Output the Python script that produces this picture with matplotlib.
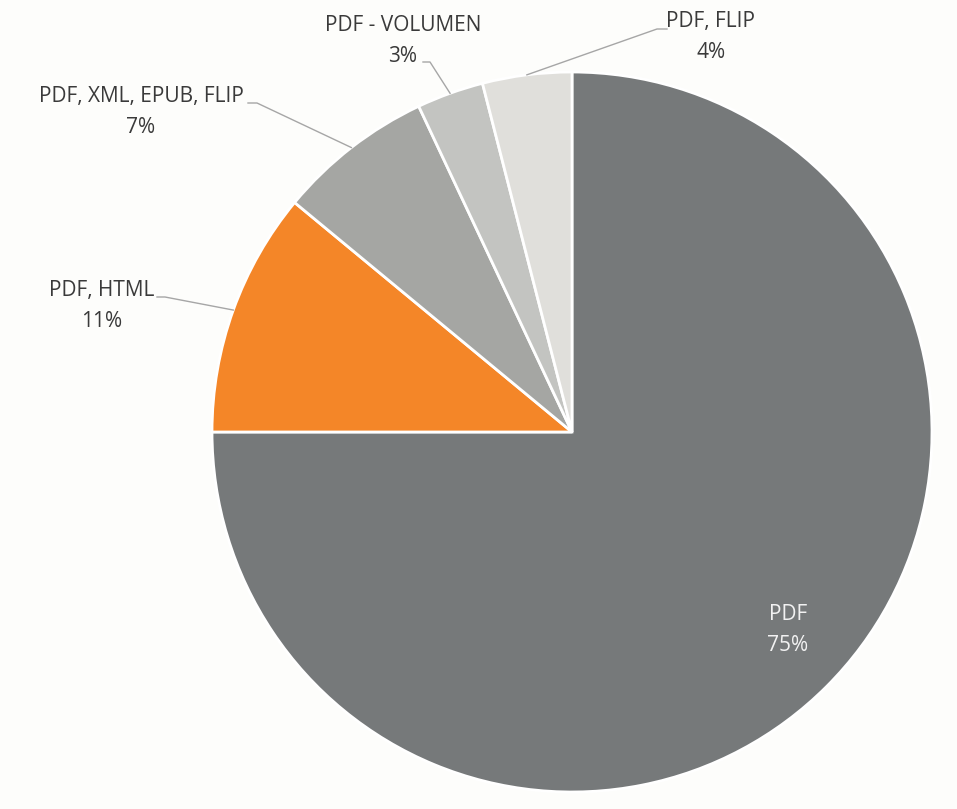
import numpy as np
import matplotlib.pyplot as plt

plt.rcParams['font.family'] = ['Open Sans', 'DejaVu Sans']

# Formats published
labels = ['PDF', 'PDF, HTML', 'PDF, XML, EPUB, FLIP', 'PDF - VOLUMEN', 'PDF, FLIP']
shares = [75, 11, 7, 3, 4]
colors = ['#76797a', '#f48628', '#a5a6a3', '#c3c4c1', '#e0dfdb']

# label centres (pixels from top-left)
label_pos = {
    'PDF': (788, 630),
    'PDF, HTML': (102, 306),
    'PDF, XML, EPUB, FLIP': (141, 112),
    'PDF - VOLUMEN': (403, 41),
    'PDF, FLIP': (711, 37),
}
# leader line: start next to the text, then a short horizontal tick
leader_start = {
    'PDF, HTML': (157, 297, 8),
    'PDF, XML, EPUB, FLIP': (248, 103, 9),
    'PDF - VOLUMEN': (423, 62, 7),
    'PDF, FLIP': (667, 29, -10),
}

W, H = 957, 809
bg = '#fdfdfb'
fig = plt.figure(figsize=(W / 100, H / 100), dpi=100, facecolor=bg)
ax = fig.add_axes([0, 0, 1, 1])

cx, cy, R = 572, H - 432, 360
wedges, _ = ax.pie(shares, colors=colors, startangle=90, counterclock=False,
                   center=(cx, cy), radius=R, frame=True,
                   wedgeprops=dict(edgecolor='white', linewidth=2))
ax.set_xlim(0, W)
ax.set_ylim(0, H)
ax.set_aspect('equal')
ax.axis('off')

for w, lab, val in zip(wedges, labels, shares):
    text = f'{lab}\n{val}%'
    px, py = label_pos[lab]
    if lab == 'PDF':
        ax.text(px, H - py, text, ha='center', va='center', fontsize=15,
                color='#f2f2f2', linespacing=1.6)
        continue
    ax.text(px, H - py, text, ha='center', va='center', fontsize=15,
            color='#3a3a3a', linespacing=1.6)
    # leader ends on the wedge rim at its mid angle
    mid = np.deg2rad((w.theta1 + w.theta2) / 2)
    ex = cx + R * np.cos(mid)
    ey = cy + R * np.sin(mid)
    sx, sy, tick = leader_start[lab]
    ax.plot([sx, sx + tick, ex], [H - sy, H - sy, ey], color='#a6a6a6', lw=1)

fig.savefig('out.png', dpi=100, facecolor=bg)
